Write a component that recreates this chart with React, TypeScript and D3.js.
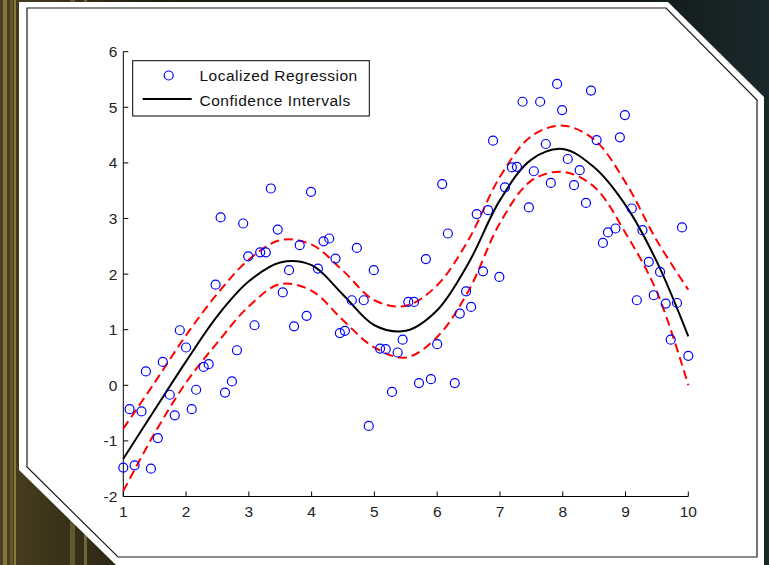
import React, { useEffect, useRef } from "react";
import * as d3 from "d3";

// scattered observations (x, y)
const obsX = [1.0, 1.1, 1.18, 1.29, 1.36, 1.44, 1.55, 1.63, 1.74, 1.82, 1.9, 2.0, 2.09, 2.16, 2.28, 2.36, 2.47, 2.55, 2.62, 2.73, 2.81, 2.91, 2.99, 3.09, 3.18, 3.27, 3.35, 3.46, 3.54, 3.64, 3.72, 3.81, 3.92, 3.99, 4.1, 4.19, 4.28, 4.38, 4.45, 4.53, 4.64, 4.72, 4.83, 4.91, 4.99, 5.09, 5.18, 5.28, 5.37, 5.45, 5.54, 5.63, 5.71, 5.82, 5.9, 6.0, 6.08, 6.17, 6.28, 6.36, 6.46, 6.54, 6.63, 6.73, 6.81, 6.89, 6.99, 7.08, 7.19, 7.27, 7.36, 7.46, 7.54, 7.64, 7.73, 7.81, 7.91, 7.99, 8.08, 8.18, 8.27, 8.37, 8.45, 8.54, 8.64, 8.72, 8.84, 8.91, 8.99, 9.1, 9.18, 9.27, 9.37, 9.45, 9.55, 9.64, 9.72, 9.82, 9.9, 10.0];
const obsY = [-1.48, -0.43, -1.44, -0.47, 0.25, -1.5, -0.95, 0.42, -0.17, -0.54, 0.99, 0.68, -0.43, -0.08, 0.33, 0.38, 1.81, 3.02, -0.13, 0.07, 0.63, 2.91, 2.32, 1.08, 2.39, 2.39, 3.54, 2.8, 1.67, 2.07, 1.06, 2.52, 1.25, 3.48, 2.1, 2.59, 2.64, 2.28, 0.94, 0.98, 1.53, 2.47, 1.53, -0.73, 2.07, 0.66, 0.65, -0.12, 0.59, 0.82, 1.5, 1.5, 0.04, 2.27, 0.11, 0.74, 3.62, 2.73, 0.04, 1.29, 1.69, 1.41, 3.08, 2.05, 3.15, 4.4, 1.95, 3.56, 3.92, 3.93, 5.1, 3.2, 3.85, 5.1, 4.34, 3.64, 5.42, 4.95, 4.07, 3.6, 3.87, 3.28, 5.3, 4.41, 2.56, 2.75, 2.82, 4.46, 4.86, 3.18, 1.53, 2.79, 2.22, 1.62, 2.04, 1.47, 0.82, 1.48, 2.84, 0.53];

// fitted curve and its bounds
const fitX = [1.0, 1.5, 2.0, 2.5, 3.0, 3.5, 4.0, 4.5, 5.0, 5.5, 6.0, 6.5, 7.0, 7.5, 8.0, 8.5, 9.0, 9.5, 10.0];
const fitY = [-1.32, -0.44, 0.43, 1.25, 1.87, 2.21, 2.16, 1.63, 1.08, 0.98, 1.35, 2.2, 3.33, 4.06, 4.25, 3.92, 3.24, 2.22, 0.88];
const upperY = [-0.78, 0.05, 0.9, 1.65, 2.26, 2.61, 2.53, 2.06, 1.53, 1.43, 1.8, 2.62, 3.75, 4.48, 4.67, 4.42, 3.65, 2.6, 1.72];
const lowerY = [-1.9, -0.86, 0.05, 0.77, 1.42, 1.82, 1.7, 1.17, 0.68, 0.5, 0.87, 1.7, 2.92, 3.68, 3.84, 3.57, 2.74, 1.68, 0.0];

const xTicks = [1, 2, 3, 4, 5, 6, 7, 8, 9, 10];
const yTicks = [-2, -1, 0, 1, 2, 3, 4, 5, 6];

const legendLabels = ["Localized Regression", "Confidence Intervals"];

const W = 769;
const H = 565;

export default function App() {
  const ref = useRef<SVGSVGElement>(null);

  useEffect(() => {
    const svg = d3.select(ref.current);
    svg.selectAll("*").remove();

    // background
    const defs = svg.append("defs");
    const bg = defs.append("linearGradient").attr("id", "bg").attr("x1", 0).attr("x2", 1).attr("y1", 0).attr("y2", 0);
    bg.append("stop").attr("offset", "0%").attr("stop-color", "#4a3f1e");
    bg.append("stop").attr("offset", "20%").attr("stop-color", "#221f12");
    bg.append("stop").attr("offset", "80%").attr("stop-color", "#121717");
    bg.append("stop").attr("offset", "100%").attr("stop-color", "#1a282a");
    svg.append("rect").attr("width", W).attr("height", H).attr("fill", "url(#bg)");
    // a few light streaks at the left
    [[3, 4, "#c8b468"], [10, 3, "#8a7a3c"], [70, 5, "#9a8848"], [84, 3, "#c0ac62"], [14, 2, "#d8c878"]].forEach(([sx, sw, c]) => {
      svg.append("rect").attr("x", sx as number).attr("y", 0).attr("width", sw as number).attr("height", H)
        .attr("fill", c as string).attr("opacity", 0.45);
    });

    // panel
    const outer: [number, number][] = [[19, 2], [668, 2], [764, 97], [764, 565], [116, 565], [19, 470]];
    const inner: [number, number][] = [[27, 8], [666, 8], [757, 100], [757, 557], [118, 557], [27, 467]];
    const poly = (p: [number, number][]) => "M" + p.map((d) => d.join(",")).join("L") + "Z";
    svg.append("path").attr("d", poly(outer)).attr("fill", "#fff");
    svg.append("path").attr("d", poly(inner)).attr("fill", "#fff").attr("stroke", "#1a1a1a").attr("stroke-width", 1.2);

    const x = d3.scaleLinear().domain([1, 10]).range([123.3, 688.3]);
    const y = d3.scaleLinear().domain([-2, 6]).range([496.5, 51.7]);

    const font = "'Liberation Sans', Arial, sans-serif";

    // axes
    const ax = svg.append("g").attr("stroke", "#000").attr("stroke-width", 1).attr("fill", "none");
    ax.append("line").attr("x1", x(1)).attr("x2", x(1)).attr("y1", y(6)).attr("y2", y(-2));
    ax.append("line").attr("x1", x(1)).attr("x2", x(10)).attr("y1", y(-2)).attr("y2", y(-2));
    yTicks.forEach((t) => {
      ax.append("line").attr("x1", x(1)).attr("x2", x(1) + 5).attr("y1", y(t)).attr("y2", y(t));
    });
    xTicks.forEach((t) => {
      ax.append("line").attr("x1", x(t)).attr("x2", x(t)).attr("y1", y(-2)).attr("y2", y(-2) - 5);
    });

    svg.append("g").selectAll("text").data(yTicks).join("text")
      .attr("x", x(1) - 6).attr("y", (d) => y(d) + 5.5)
      .attr("text-anchor", "end").attr("font-family", font).attr("font-size", 15.5).attr("fill", "#222")
      .text((d) => d);
    svg.append("g").selectAll("text").data(xTicks).join("text")
      .attr("x", (d) => x(d)).attr("y", y(-2) + 20.5)
      .attr("text-anchor", "middle").attr("font-family", font).attr("font-size", 15.5).attr("fill", "#222")
      .text((d) => d);

    // bands and fit
    const line = d3.line<number>().x((_, i) => x(fitX[i])).y((d) => y(d)).curve(d3.curveCatmullRom);
    [upperY, lowerY].forEach((arr) => {
      svg.append("path").attr("d", line(arr)).attr("fill", "none").attr("stroke", "#ff0000")
        .attr("stroke-width", 2).attr("stroke-dasharray", "9,5");
    });
    svg.append("path").attr("d", line(fitY)).attr("fill", "none").attr("stroke", "#000").attr("stroke-width", 2);

    // points
    svg.append("g").selectAll("circle").data(obsX).join("circle")
      .attr("cx", (d) => x(d)).attr("cy", (_, i) => y(obsY[i])).attr("r", 4.5)
      .attr("fill", "none").attr("stroke", "#0000ff").attr("stroke-width", 1.2);

    // legend
    const lg = svg.append("g");
    lg.append("rect").attr("x", 132.7).attr("y", 60.7).attr("width", 236.6).attr("height", 55.3)
      .attr("fill", "#fff").attr("stroke", "#000").attr("stroke-width", 1);
    lg.append("circle").attr("cx", 168.7).attr("cy", 75.5).attr("r", 4.5)
      .attr("fill", "none").attr("stroke", "#0000ff").attr("stroke-width", 1.2);
    lg.append("line").attr("x1", 142.7).attr("x2", 191.7).attr("y1", 99).attr("y2", 99)
      .attr("stroke", "#000").attr("stroke-width", 2);
    lg.selectAll("text").data(legendLabels).join("text")
      .attr("x", 199.5).attr("y", (_, i) => 81 + i * 24.5)
      .attr("font-family", font).attr("font-size", 15.5).attr("letter-spacing", 0.5).attr("fill", "#111")
      .text((d) => d);
  }, []);

  return <svg ref={ref} width={W} height={H} style={{ position: "absolute", left: 0, top: 0 }} />;
}
